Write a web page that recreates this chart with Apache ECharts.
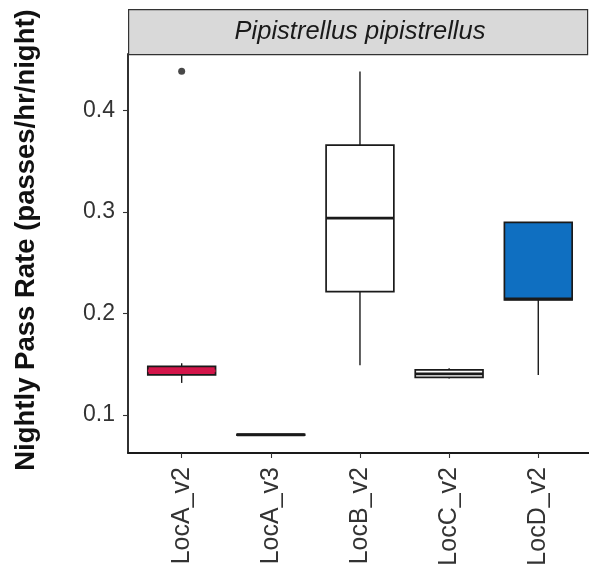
<!DOCTYPE html>
<html>
<head>
<meta charset="utf-8">
<script src="https://cdn.jsdelivr.net/npm/echarts@6/dist/echarts.min.js"></script>
<style>
  html, body { margin: 0; padding: 0; background: #ffffff; }
  #chart { width: 589px; height: 577px; }
</style>
</head>
<body>
<div id="chart"></div>
<script>
// Nightly pass rates of Pipistrellus pipistrellus per location/version
const species = 'Pipistrellus pipistrellus';
const categories = ['LocA_v2', 'LocA_v3', 'LocB_v2', 'LocC_v2', 'LocD_v2'];
// five-number summaries: [min, Q1, median, Q3, max]
const lowWhisker = [0.1316, 0.0805, 0.149, 0.136, 0.1395];
const q1Values = [0.1395, 0.0800, 0.2217, 0.137, 0.2135];
const medians = [0.1434, 0.0805, 0.294, 0.1405, 0.2145];
const q3Values = [0.1479, 0.0810, 0.366, 0.1445, 0.2898];
const highWhisker = [0.151, 0.0805, 0.4386, 0.146, 0.2898];
// points beyond the whiskers: [category index, value]
const outliers = [[0, 0.439]];
const yTicks = [0.1, 0.2, 0.3, 0.4];
const yTitle = 'Nightly Pass Rate (passes/hr/night)';

// per-box fill colours
const boxFills = ['#d3164a', '#ffffff', '#ffffff', '#ffffff', '#0f6fc1'];
const medianColors = ['#d3164a', '#1a1a1a', '#1a1a1a', '#1a1a1a', '#1a1a1a'];

const yMin = 0.0625, yMax = 0.4559;

const boxData = categories.map((c, i) => [i, lowWhisker[i], q1Values[i], medians[i], q3Values[i], highWhisker[i]]);

const chart = echarts.init(document.getElementById('chart'), null, { renderer: 'canvas' });

const labelFont = 'Liberation Sans, Arial, Helvetica, sans-serif';

chart.setOption({
  backgroundColor: '#ffffff',
  animation: false,
  grid: [
    // panel frame (left and bottom axis lines, y ticks)
    { left: 128, right: -4, top: 54, bottom: 124, containLabel: false },
    // boxes laid out on the discrete scale
    { left: 137.1, width: 445.75, top: 54, bottom: 124, containLabel: false }
  ],
  xAxis: [
    {
      type: 'value', gridIndex: 0, min: 0, max: 1,
      axisLine: { show: true, onZero: false, lineStyle: { color: '#1a1a1a', width: 1.8 } },
      axisTick: { show: false }, axisLabel: { show: false }, splitLine: { show: false }
    },
    {
      type: 'category', gridIndex: 1, data: categories, boundaryGap: true,
      axisLine: { show: false },
      axisTick: { show: true, alignWithLabel: true, length: 5, lineStyle: { color: '#333333', width: 1.1 } },
      axisLabel: {
        rotate: 90, margin: 14, fontSize: 25, color: '#333333', fontFamily: labelFont, interval: 0
      },
      splitLine: { show: false }
    }
  ],
  yAxis: [
    {
      type: 'value', gridIndex: 0, min: yMin, max: yMax,
      axisLine: { show: true, onZero: false, lineStyle: { color: '#1a1a1a', width: 1.8 } },
      axisTick: { show: true, length: 5, customValues: yTicks, lineStyle: { color: '#333333', width: 1.1 } },
      axisLabel: {
        customValues: yTicks, margin: 13, fontSize: 23, color: '#333333', fontFamily: labelFont,
        formatter: v => v.toFixed(1)
      },
      splitLine: { show: false }
    },
    {
      type: 'value', gridIndex: 1, min: yMin, max: yMax, show: false
    }
  ],
  series: [
    {
      type: 'custom',
      xAxisIndex: 1, yAxisIndex: 1,
      data: boxData,
      encode: { x: 0, y: [1, 2, 3, 4, 5] },
      renderItem: function (params, api) {
        const x = api.value(0);
        const lo = api.coord([x, api.value(1)]);
        const b1 = api.coord([x, api.value(2)]);
        const md = api.coord([x, api.value(3)]);
        const b3 = api.coord([x, api.value(4)]);
        const hi = api.coord([x, api.value(5)]);
        const bw = api.size([1, 0])[0] * 0.76;
        const i = params.dataIndex;
        const edge = '#1a1a1a';
        return {
          type: 'group',
          children: [
            { type: 'line', shape: { x1: lo[0], y1: lo[1], x2: b1[0], y2: b1[1] }, style: { stroke: edge, lineWidth: 1.4 } },
            { type: 'line', shape: { x1: b3[0], y1: b3[1], x2: hi[0], y2: hi[1] }, style: { stroke: edge, lineWidth: 1.4 } },
            { type: 'rect', shape: { x: b3[0] - bw / 2, y: b3[1], width: bw, height: Math.max(b1[1] - b3[1], 0.5) },
              style: { fill: boxFills[i], stroke: edge, lineWidth: 1.7 } },
            { type: 'line', shape: { x1: md[0] - bw / 2, y1: md[1], x2: md[0] + bw / 2, y2: md[1] },
              style: { stroke: medianColors[i], lineWidth: 2.8 } }
          ]
        };
      }
    },
    {
      type: 'scatter',
      xAxisIndex: 1, yAxisIndex: 1,
      data: outliers,
      symbol: 'circle', symbolSize: 7,
      itemStyle: { color: '#1a1a1a' }
    }
  ],
  graphic: [
    // facet strip
    {
      type: 'rect', left: 128, top: 9, z: 10,
      shape: { width: 459, height: 45 },
      style: { fill: '#d9d9d9', stroke: '#333333', lineWidth: 1.2 }
    },
    {
      type: 'text', z: 11,
      x: 360, y: 32,
      style: {
        text: species, fontSize: 25.5, fontStyle: 'italic', fontFamily: labelFont,
        fill: '#1a1a1a', align: 'center', verticalAlign: 'middle'
      }
    },
    // y-axis title
    {
      type: 'text', z: 11,
      x: 26, y: 240, rotation: Math.PI / 2,
      style: {
        text: yTitle, fontSize: 27.5, fontWeight: 'bold', fontFamily: labelFont,
        fill: '#111111', align: 'center', verticalAlign: 'middle'
      }
    }
  ]
});
</script>
</body>
</html>
